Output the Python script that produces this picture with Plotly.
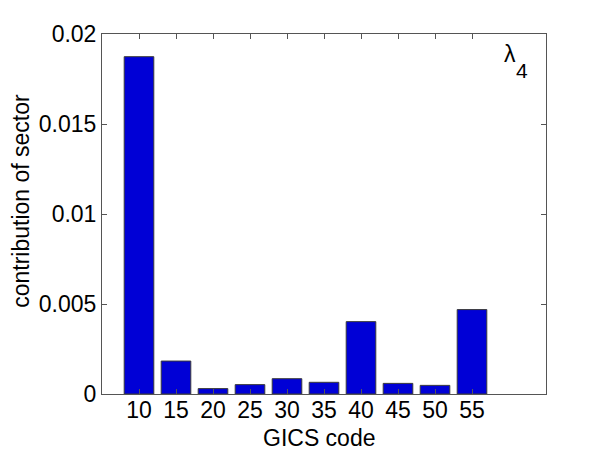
import plotly.graph_objects as go

codes = ["10", "15", "20", "25", "30", "35", "40", "45", "50", "55"]
positions = [1, 2, 3, 4, 5, 6, 7, 8, 9, 10]
values = [0.01874, 0.00183, 0.00030, 0.00052, 0.00085, 0.00065, 0.00402, 0.00059, 0.00048, 0.00469]
y_ticks = [0, 0.005, 0.01, 0.015, 0.02]
y_ticktext = ["0", "0.005", "0.01", "0.015", "0.02"]

font_family = "Liberation Sans, Arial, Helvetica, sans-serif"
fs = 23

fig = go.Figure()
fig.add_trace(go.Bar(
    x=positions, y=values, width=0.8,
    marker=dict(color="#0000d6", line=dict(color="#3a3a3a", width=1)),
))

fig.update_layout(
    width=602, height=453,
    margin=dict(l=94, r=64, t=26, b=67),
    paper_bgcolor="white", plot_bgcolor="white",
    showlegend=False,
    font=dict(family=font_family, size=fs, color="black"),
    xaxis=dict(
        range=[0, 12], tickvals=positions, ticktext=codes,
        ticks="inside", ticklen=5, tickcolor="#555555",
        showline=True, linecolor="#555555", linewidth=1, mirror="ticks",
        showgrid=False, zeroline=False,
        tickfont=dict(size=fs), ticklabelstandoff=-5,
    ),
    yaxis=dict(
        range=[0, 0.02], tickvals=y_ticks, ticktext=y_ticktext,
        ticks="inside", ticklen=5, tickcolor="#555555",
        showline=True, linecolor="#555555", linewidth=1, mirror="ticks",
        showgrid=False, zeroline=False,
        tickfont=dict(size=fs),
    ),
    annotations=[
        dict(x=0.49, y=-0.122, xref="paper", yref="paper",
             xanchor="center", yanchor="middle",
             text="GICS code", showarrow=False, font=dict(size=fs)),
        dict(x=-0.183, y=0.536, xref="paper", yref="paper",
             xanchor="center", yanchor="middle", textangle=-90,
             text="contribution of sector", showarrow=False, font=dict(size=fs)),
        dict(x=0.901, y=0.985, xref="paper", yref="paper",
             xanchor="left", yanchor="top",
             text="λ", showarrow=False, font=dict(size=fs)),
        dict(x=0.929, y=0.937, xref="paper", yref="paper",
             xanchor="left", yanchor="top",
             text="4", showarrow=False, font=dict(size=21)),
    ],
)

fig.write_html("out.html")
